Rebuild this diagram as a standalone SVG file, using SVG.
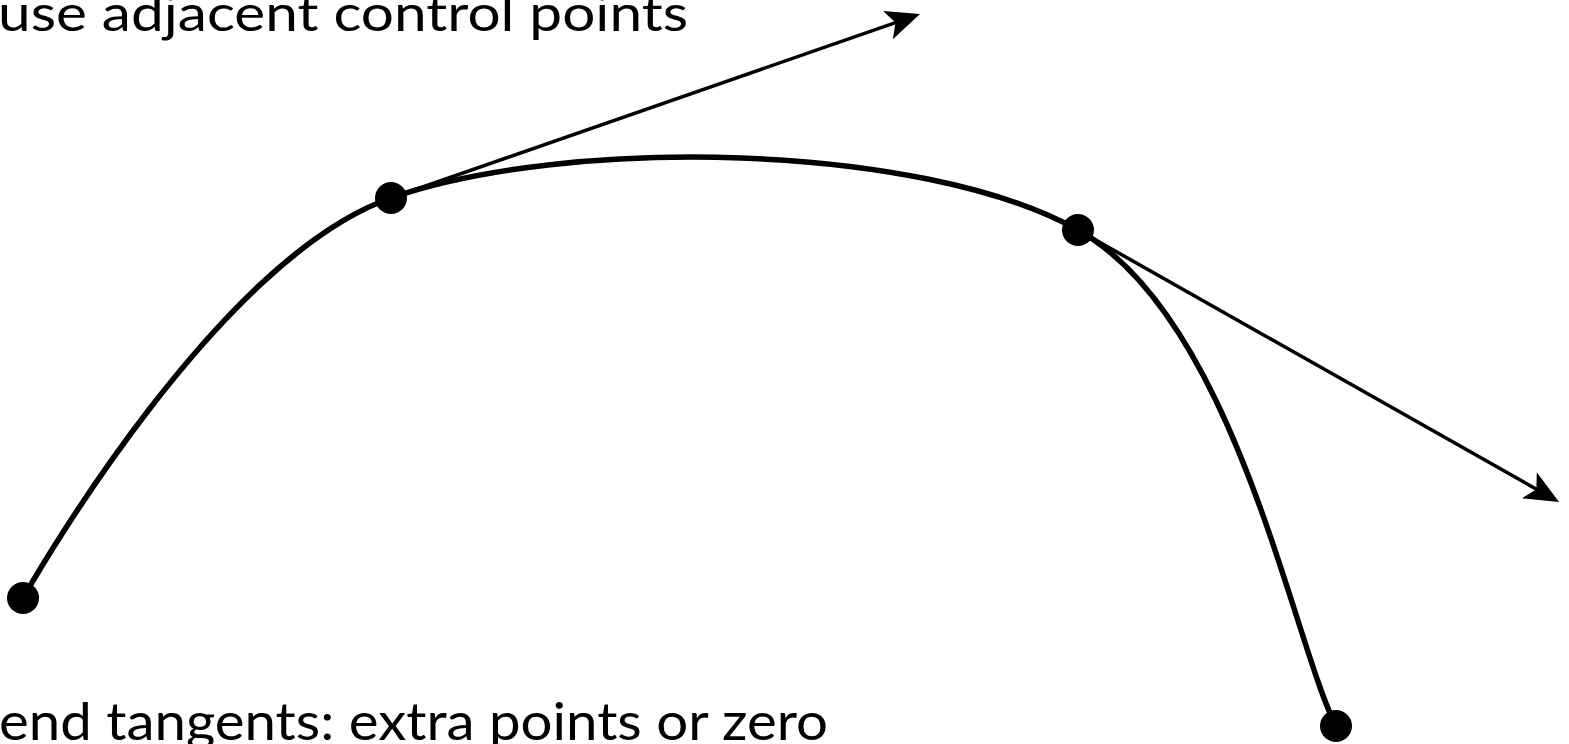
<svg xmlns="http://www.w3.org/2000/svg" width="1569" height="744" viewBox="0 0 1569 744">
<style>
.curve{fill:none;stroke:#000;stroke-width:5.5}
.tan{fill:none;stroke:#000;stroke-width:3.5}
.pt{fill:#000}
.lbl{font-family:Lato,"Liberation Sans",sans-serif;fill:#000}
</style>
<defs>
<marker id="ah" markerUnits="userSpaceOnUse" orient="auto" refX="0" refY="0" markerWidth="60" markerHeight="60" viewBox="-30 -30 60 60" overflow="visible">
<path d="M10,0 L-24,-15 L-16,0 L-24,15 Z" fill="#000"/>
</marker>
</defs>
<rect width="1569" height="744" fill="#fff"/>
<g id="connectors">
<path id="spline" class="curve" d="M23,598 C30,586 215.2,259.3 391,198 C566.8,136.7 920.5,142 1078,230 C1235.5,318 1293,643.3 1336,726"/>
<line id="tangent1" class="tan" x1="391" y1="198" x2="910.6" y2="17.3" marker-end="url(#ah)"/>
<line id="tangent2" class="tan" x1="1078" y1="230" x2="1550.3" y2="497.1" marker-end="url(#ah)"/>
</g>
<g id="p0"><circle class="pt" cx="23" cy="598" r="16"/></g>
<g id="p1"><circle class="pt" cx="391" cy="198" r="16"/></g>
<g id="p2"><circle class="pt" cx="1078" cy="230" r="16"/></g>
<g id="p3"><circle class="pt" cx="1336" cy="726" r="16"/></g>
<g id="label-top"><text class="lbl" x="-2" y="31" font-size="50" textLength="690" lengthAdjust="spacingAndGlyphs">use adjacent control points</text></g>
<g id="label-bottom"><text class="lbl" x="-1" y="740" font-size="53" textLength="829" lengthAdjust="spacingAndGlyphs">end tangents: extra points or zero</text></g>
</svg>
